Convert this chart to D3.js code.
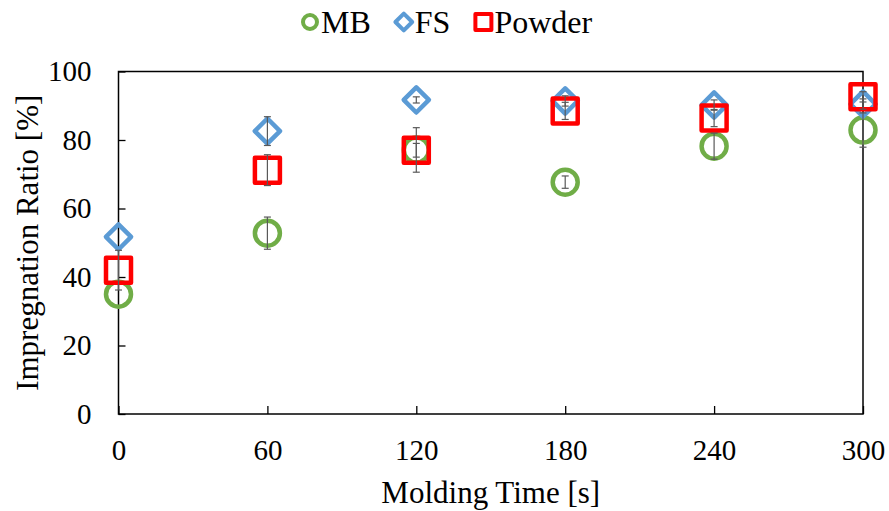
<!DOCTYPE html>
<html>
<head>
<meta charset="utf-8">
<script src="https://cdn.jsdelivr.net/npm/d3@7"></script>
<style>
    body { margin: 0; background: #fff; }
    svg text { font-family: "Liberation Serif", "Times New Roman", serif; fill: #000; }
</style>
</head>
<body>
<div id="chart"></div>
<script>
// molding time (s) on x, impregnation ratio (%) on y
const times = [0, 60, 120, 180, 240, 300];
const mbValues = [35.0, 52.8, 77.1, 67.7, 78.2, 82.9];
const mbErrors = [0, 4.7, 6.5, 1.8, 3.8, 5.0];
const fsValues = [51.7, 82.6, 91.7, 91.4, 90.2, 90.5];
const fsErrors = [0, 4.2, 0.9, 1.5, 1.5, 1.5];
const powderValues = [42.0, 71.2, 77.0, 88.5, 86.4, 92.6];
const powderErrors = [5.8, 4.5, 2.0, 2.5, 2.5, 1.5];
const xTicks = [0, 60, 120, 180, 240, 300];
const yTicks = [0, 20, 40, 60, 80, 100];
const seriesNames = ['MB', 'FS', 'Powder'];

const config = {
    width: 889,
    height: 511,
    tickFont: 29,
    titleFont: 31,
    legendFont: 32,
    padding: { top: 71.5, right: 26, bottom: 97, left: 118.5 }
};

const series = [
    { name: seriesNames[0], values: mbValues, errors: mbErrors, shape: 'circle', color: '#70AD47' },
    { name: seriesNames[1], values: fsValues, errors: fsErrors, shape: 'diamond', color: '#5B9BD5' },
    { name: seriesNames[2], values: powderValues, errors: powderErrors, shape: 'square', color: '#FF0000' }
];

const svg = d3.select('#chart').append('svg')
    .attr('width', config.width)
    .attr('height', config.height);

const innerW = config.width - config.padding.left - config.padding.right;
const innerH = config.height - config.padding.top - config.padding.bottom;

const xScale = d3.scaleLinear().domain([0, 300]).range([0, innerW]);
const yScale = d3.scaleLinear().domain([0, 100]).range([innerH, 0]);

const g = svg.append('g')
    .attr('transform', 'translate(' + config.padding.left + ',' + config.padding.top + ')');

// axes with ticks pointing inward
const xAxis = d3.axisBottom(xScale).tickValues(xTicks).tickSizeInner(-8).tickSizeOuter(0).tickPadding(25);
const yAxis = d3.axisLeft(yScale).tickValues(yTicks).tickSizeInner(-7).tickSizeOuter(0).tickPadding(27);

const xAxisLine = g.append('g')
    .attr('transform', 'translate(0,' + innerH + ')')
    .call(xAxis);
const yAxisLine = g.append('g').call(yAxis);

[xAxisLine, yAxisLine].forEach(function (ax) {
    ax.select('.domain').remove();
    ax.selectAll('line').attr('stroke', '#000').attr('stroke-width', 1.3);
    ax.selectAll('text')
        .attr('font-family', '"Liberation Serif", "Times New Roman", serif')
        .attr('font-size', config.tickFont)
        .attr('fill', '#000');
});

// frame
g.append('rect')
    .attr('x', 0).attr('y', 0)
    .attr('width', innerW).attr('height', innerH)
    .attr('fill', 'none')
    .attr('stroke', '#000')
    .attr('stroke-width', 1.5);

function drawMarker(sel, shape, color, size, strokeW) {
    if (shape === 'circle') {
        sel.append('circle').attr('r', size).attr('fill', 'none')
            .attr('stroke', color).attr('stroke-width', strokeW);
    } else if (shape === 'diamond') {
        const d = size * 1.05;
        sel.append('path')
            .attr('d', 'M0,' + (-d) + 'L' + d + ',0L0,' + d + 'L' + (-d) + ',0Z')
            .attr('fill', 'none').attr('stroke', color).attr('stroke-width', strokeW)
            .attr('stroke-linejoin', 'round');
    } else {
        sel.append('rect').attr('x', -size).attr('y', -size)
            .attr('width', size * 2).attr('height', size * 2)
            .attr('fill', 'none').attr('stroke', color).attr('stroke-width', strokeW)
            .attr('stroke-linejoin', 'round');
    }
}

// markers first
series.forEach(function (s) {
    g.append('g').selectAll('g')
        .data(times)
        .enter()
        .append('g')
        .attr('transform', function (t, i) {
            return 'translate(' + xScale(t) + ',' + yScale(s.values[i]) + ')';
        })
        .each(function () {
            drawMarker(d3.select(this), s.shape, s.color, s.shape === 'diamond' ? 12 : 12.5, 4.5);
        });
});

// error bars on top
series.forEach(function (s) {
    const eg = g.append('g').attr('stroke', '#595959').attr('stroke-width', 1.2);
    times.forEach(function (t, i) {
        if (!s.errors[i]) return;
        const x = xScale(t);
        const y1 = yScale(s.values[i] + s.errors[i]);
        const y2 = yScale(s.values[i] - s.errors[i]);
        eg.append('line').attr('x1', x).attr('x2', x).attr('y1', y1).attr('y2', y2);
        eg.append('line').attr('x1', x - 3.5).attr('x2', x + 3.5).attr('y1', y1).attr('y2', y1);
        eg.append('line').attr('x1', x - 3.5).attr('x2', x + 3.5).attr('y1', y2).attr('y2', y2);
    });
});

// legend
const legend = svg.append('g').attr('transform', 'translate(0,22)');
let lx = 310;
series.forEach(function (s) {
    const item = legend.append('g').attr('transform', 'translate(' + lx + ',0)');
    drawMarker(item, s.shape, s.color, s.shape === 'circle' ? 7 : 8, 4);
    const txt = item.append('text')
        .attr('x', 11)
        .attr('y', 11)
        .attr('font-size', config.legendFont)
        .text(s.name);
    lx += 11 + txt.node().getComputedTextLength() + 33;
});

// axis titles
svg.append('text')
    .attr('x', config.padding.left + innerW / 2)
    .attr('y', 503)
    .attr('text-anchor', 'middle')
    .attr('font-size', config.titleFont)
    .text('Molding Time [s]');

svg.append('text')
    .attr('transform', 'translate(38,' + (config.padding.top + innerH / 2) + ') rotate(-90)')
    .attr('text-anchor', 'middle')
    .attr('font-size', config.titleFont)
    .text('Impregnation Ratio [%]');
</script>
</body>
</html>
